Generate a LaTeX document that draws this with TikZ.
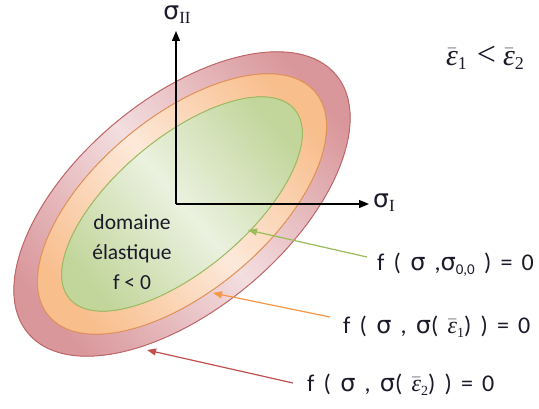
\documentclass[tikz,border=0pt]{standalone}
\usepackage{fontspec}
\setmainfont{Carlito}
\newfontfamily\serifgr{Liberation Serif}
\newfontfamily\lblfont[WordSpace=1.7]{Carlito}
\newfontfamily\sgfont{DejaVu Sans}
\newcommand\sg{{\sgfont σ}}
\newcommand\epsb[2]{$\bar{\hbox{\serifgr\itshape ε}}$\raisebox{-4pt}{\serifgr\fontsize{#2}{#2}\selectfont #1}}
\usetikzlibrary{arrows.meta}
\definecolor{rdark}{HTML}{D9979B}
\definecolor{rlight}{HTML}{F3DEE0}
\definecolor{rline}{HTML}{C0676A}
\definecolor{odark}{HTML}{F8BE8C}
\definecolor{olight}{HTML}{FDE9DA}
\definecolor{oline}{HTML}{E2935A}
\definecolor{gdark}{HTML}{C2D69C}
\definecolor{glight}{HTML}{EBF1DF}
\definecolor{gline}{HTML}{9DBB61}
\definecolor{garrow}{HTML}{9BBB59}
\definecolor{oarrow}{HTML}{F79646}
\definecolor{rarrow}{HTML}{C0504D}
\definecolor{txt}{HTML}{1A1A2A}
\tikzset{
  ring/.style={line width=1pt},
  axis/.style={line width=1.2pt,-{Triangle[length=10pt,width=8pt]}},
  lblarrow/.style={line width=1.2pt,-{Triangle[length=9pt,width=7pt]}},
  lbl/.style={font=\lblfont\fontsize{24}{26}\selectfont, text=txt, anchor=west, inner sep=0pt},
  axlbl/.style={font=\fontsize{25}{26}\selectfont, text=txt, inner sep=0pt},
}
\begin{document}
\begin{tikzpicture}[x=1pt,y=1pt]
\useasboundingbox (0,0) rectangle (539,408);
\coordinate (c) at (182,204);
% outer red ring
\fill[top color=rdark,bottom color=rdark,middle color=rlight,shading angle=-50,rotate around={40:(c)}]
  (c) ellipse [x radius=201, y radius=105];
\draw[ring,rline,rotate around={40:(c)}] (c) ellipse [x radius=201, y radius=105];
% orange
\fill[top color=odark,bottom color=odark,middle color=olight,shading angle=-50,rotate around={40:(c)}]
  (c) ellipse [x radius=174, y radius=87];
\draw[ring,oline,rotate around={40:(c)}] (c) ellipse [x radius=174, y radius=87];
% green
\fill[top color=gdark,bottom color=gdark,middle color=glight,shading angle=-50,rotate around={40:(c)}]
  (c) ellipse [x radius=147, y radius=66];
\draw[ring,gline,rotate around={40:(c)}] (c) ellipse [x radius=147, y radius=66];
% axes
\coordinate (o) at (176,204);
\coordinate (ytip) at (176,377);
\coordinate (xtip) at (369,204);
\draw[axis] (o) -- (ytip);
\draw[axis] (o) -- (xtip);
\node[axlbl] (s2) at (177,393) {\sg\raisebox{-4pt}{\fontsize{17}{18}\selectfont\serifgr II}};
\node[axlbl, anchor=west] (s1) at (373,205) {\sg\raisebox{-4pt}{\fontsize{17}{18}\selectfont\serifgr I}};
% eps relation
\node[font=\serifgr\fontsize{30}{32}\selectfont, text=txt, inner sep=0pt] (rel) at (485,350)
  {\epsb{1}{18}\hspace{10pt}{\fontsize{34}{34}\selectfont <}\hspace{7pt}\epsb{2}{18}};
% domain text
\node[font=\fontsize{21.5}{30}\selectfont, text=txt, align=center, inner sep=0pt] (dom) at (132,156) {domaine\\élastique\\f < 0};
% labels
\node[lbl] (lg) at (377,143) {f ( \sg{} ,\sg\raisebox{-4pt}{\fontsize{15}{16}\selectfont 0,0} ) = 0};
\node[lbl] (lo) at (343,81) {f ( \sg{} , \sg( \epsb{1}{14}) ) = 0};
\node[lbl] (lr) at (307,23) {f ( \sg{} , \sg( \epsb{2}{14}) ) = 0};
% arrows
\coordinate (gs) at (367,151);
\coordinate (gt) at (248,178);
\coordinate (os) at (330,91);
\coordinate (ot) at (213,115);
\coordinate (rs) at (293,25);
\coordinate (rt) at (147,58);
\draw[lblarrow,garrow] (gs) -- (gt);
\draw[lblarrow,oarrow] (os) -- (ot);
\draw[lblarrow,rarrow] (rs) -- (rt);
\end{tikzpicture}
\end{document}
